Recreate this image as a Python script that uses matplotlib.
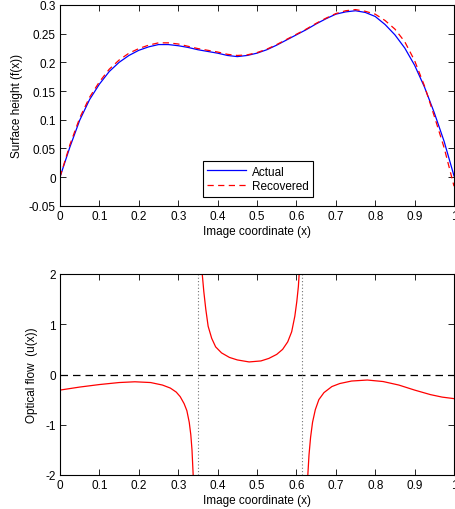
import matplotlib
matplotlib.use("Agg")
import matplotlib.pyplot as plt
import numpy as np

plt.rcParams['font.family'] = ['Liberation Sans', 'DejaVu Sans']
plt.rcParams['axes.unicode_minus'] = False

# ---------------- data ----------------
x_surf = [0.0, 0.025, 0.05, 0.075, 0.1, 0.125, 0.15, 0.175, 0.2, 0.225, 0.25,
          0.275, 0.3, 0.325, 0.35, 0.375, 0.4, 0.425, 0.45, 0.475, 0.5,
          0.525, 0.55, 0.575, 0.6, 0.625, 0.65, 0.675, 0.7, 0.725, 0.75,
          0.775, 0.8, 0.825, 0.85, 0.875, 0.9, 0.925, 0.95, 0.975, 1.0]
actual = [0.000, 0.052, 0.099, 0.135, 0.162, 0.184, 0.200, 0.212, 0.221, 0.227, 0.231,
          0.231, 0.229, 0.226, 0.222, 0.219, 0.216, 0.212, 0.210, 0.212, 0.216,
          0.222, 0.230, 0.239, 0.248, 0.257, 0.267, 0.276, 0.284, 0.288, 0.290,
          0.287, 0.280, 0.266, 0.248, 0.225, 0.195, 0.157, 0.112, 0.062, 0.002]
recovered = [0.000, 0.056, 0.103, 0.139, 0.166, 0.188, 0.204, 0.216, 0.224, 0.230, 0.234,
             0.234, 0.232, 0.228, 0.224, 0.221, 0.218, 0.214, 0.212, 0.213, 0.217,
             0.223, 0.231, 0.240, 0.249, 0.258, 0.268, 0.277, 0.285, 0.290, 0.292,
             0.289, 0.284, 0.273, 0.258, 0.236, 0.203, 0.159, 0.106, 0.051, -0.016]

x_flow_left = [0.0, 0.05, 0.1, 0.15, 0.19, 0.23, 0.26, 0.28, 0.295, 0.305,
               0.315, 0.322, 0.328, 0.332, 0.335, 0.338]
u_flow_left = [-0.31, -0.25, -0.20, -0.16, -0.145, -0.16, -0.21, -0.27, -0.35, -0.44,
               -0.58, -0.72, -0.95, -1.2, -1.5, -2.0]
x_flow_mid = [0.361, 0.365, 0.370, 0.376, 0.385, 0.395, 0.41, 0.43, 0.45, 0.48,
              0.51, 0.53, 0.55, 0.565, 0.578, 0.588, 0.596, 0.601, 0.605, 0.607]
u_flow_mid = [2.0, 1.65, 1.3, 0.96, 0.72, 0.55, 0.43, 0.34, 0.29, 0.25,
              0.27, 0.32, 0.40, 0.50, 0.65, 0.85, 1.16, 1.45, 1.75, 2.0]
x_flow_right = [0.629, 0.632, 0.636, 0.641, 0.648, 0.657, 0.67, 0.69, 0.71, 0.74,
                0.78, 0.82, 0.86, 0.90, 0.94, 0.97, 1.0]
u_flow_right = [-2.0, -1.6, -1.25, -0.95, -0.70, -0.50, -0.36, -0.24, -0.18, -0.13,
                -0.11, -0.14, -0.21, -0.31, -0.40, -0.45, -0.48]
singular_x = [0.349, 0.615]

x_ticks = [0, 0.1, 0.2, 0.3, 0.4, 0.5, 0.6, 0.7, 0.8, 0.9, 1]
x_ticklabels = ['0', '0.1', '0.2', '0.3', '0.4', '0.5', '0.6', '0.7', '0.8', '0.9', '1']
top_yticks = [-0.05, 0, 0.05, 0.1, 0.15, 0.2, 0.25, 0.3]
top_yticklabels = ['-0.05', '0', '0.05', '0.1', '0.15', '0.2', '0.25', '0.3']
bot_yticks = [-2, -1, 0, 1, 2]
bot_yticklabels = ['-2', '-1', '0', '1', '2']

# ---------------- figure ----------------
W, H = 455, 510
fig = plt.figure(figsize=(W / 100, H / 100), dpi=100)

def frac(l, t, r, b):
    return [l / W, 1 - b / H, (r - l) / W, (b - t) / H]

ax1 = fig.add_axes(frac(60, 6, 454, 206.7))
ax2 = fig.add_axes(frac(60, 275, 454, 476))

fs = 8.5
for ax in (ax1, ax2):
    ax.tick_params(direction='in', top=True, right=True, length=4, width=0.6,
                   labelsize=fs, pad=3)
    for s in ax.spines.values():
        s.set_linewidth(0.8)
    ax.set_xlim(0, 1)
    ax.set_xticks(x_ticks)
    ax.set_xticklabels(x_ticklabels)
    ax.set_xlabel('Image coordinate (x)', fontsize=fs, labelpad=2)

# top
ax1.plot(x_surf, actual, color='#0000ff', lw=0.9, label='Actual')
ax1.plot(x_surf, recovered, color='#ff0000', lw=0.9, linestyle=(0, (5, 3.5)),
         label='Recovered')
ax1.set_ylim(-0.05, 0.3)
ax1.set_yticks(top_yticks)
ax1.set_yticklabels(top_yticklabels)
ax1.set_ylabel('Surface height (f(x))', fontsize=fs, labelpad=4)
leg = ax1.legend(loc='center', bbox_to_anchor=(0.5025, 0.133), fontsize=fs,
                 handlelength=3.3, fancybox=False, framealpha=1,
                 edgecolor='black', borderpad=0.35, labelspacing=0.25,
                 handletextpad=0.5, borderaxespad=0)
leg.get_frame().set_linewidth(0.8)

# bottom
ax2.axhline(0, color='black', lw=0.9, linestyle=(0, (6, 4)))
for sx in singular_x:
    ax2.axvline(sx, color='0.45', lw=0.8, linestyle=(0, (1, 2)))
ax2.plot(x_flow_left, u_flow_left, color='#ff0000', lw=0.9)
ax2.plot(x_flow_mid, u_flow_mid, color='#ff0000', lw=0.9)
ax2.plot(x_flow_right, u_flow_right, color='#ff0000', lw=0.9)
ax2.set_ylim(-2, 2)
ax2.set_yticks(bot_yticks)
ax2.set_yticklabels(bot_yticklabels)
ax2.set_ylabel('Optical flow  (u(x))', fontsize=fs, labelpad=5)

fig.savefig('out.png', dpi=100)
